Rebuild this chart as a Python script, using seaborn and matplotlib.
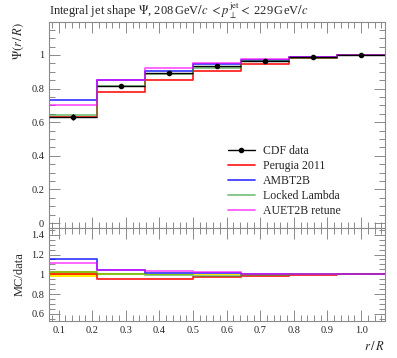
import matplotlib
matplotlib.use("Agg")
import matplotlib.pyplot as plt
from matplotlib.lines import Line2D
from matplotlib.ticker import MultipleLocator, FuncFormatter
import seaborn as sns

# r/R bins (R = 0.7, r = 0.05 ... 0.75 in steps of 0.1)
bin_edges = [0.0714, 0.2143, 0.3571, 0.5, 0.6429, 0.7857, 0.9286, 1.0714]
data_x = [0.1429, 0.2857, 0.4286, 0.5714, 0.7143, 0.8571, 1.0]
data_y = [0.630, 0.815, 0.891, 0.937, 0.967, 0.985, 1.0]
data_err = [0.019, 0.009, 0.007, 0.005, 0.003, 0.002, 0.0]

perugia = [0.633, 0.778, 0.849, 0.907, 0.948, 0.981, 1.0]
ambt2b = [0.730, 0.848, 0.907, 0.945, 0.972, 0.986, 1.0]
locked = [0.645, 0.818, 0.889, 0.924, 0.962, 0.984, 1.0]
auet2b = [0.700, 0.853, 0.923, 0.955, 0.974, 0.986, 1.0]

mc_labels = ["Perugia 2011", "AMBT2B", "Locked Lambda", "AUET2B retune"]
mc_values = [perugia, ambt2b, locked, auet2b]
mc_colors = ["#ff0000", "#0000ff", "#2a9a2a", "#ff00ff"]
mc_alpha = [0.85, 0.75, 0.6, 0.65]

sns.set_style("ticks")
plt.rcParams["font.family"] = ["Liberation Serif", "DejaVu Serif"]
plt.rcParams["mathtext.fontset"] = "stix"

frame = "#8a8a8a"


def step_xy(vals):
    # repeat last value so the final bin gets drawn with steps-post
    return bin_edges, list(vals) + [vals[-1]]


def style_axis(ax):
    for s in ax.spines.values():
        s.set_color(frame)
        s.set_linewidth(0.8)
    ax.tick_params(which="both", direction="in", top=True, right=True,
                   color=frame, labelsize=7.5, width=0.7)
    ax.tick_params(which="major", length=8)
    ax.tick_params(which="minor", length=4)
    ax.xaxis.set_major_locator(MultipleLocator(0.1))
    ax.xaxis.set_minor_locator(MultipleLocator(0.02))
    ax.yaxis.set_major_formatter(FuncFormatter(lambda v, p: f"{v:g}"))
    ax.set_xlim(bin_edges[0], bin_edges[-1])


fig = plt.figure(figsize=(3.97, 3.58), dpi=100)
ax = fig.add_axes([0.1234, 0.363, 0.8466, 0.5755])
rax = fig.add_axes([0.1234, 0.1034, 0.8466, 0.2596], sharex=ax)

# main panel
half_w = [(bin_edges[i + 1] - bin_edges[i]) / 2 for i in range(len(data_x))]
ax.errorbar(data_x, data_y, xerr=half_w, yerr=data_err, fmt="o", ms=3,
            color="black", lw=1.0, capsize=0, zorder=5)
for vals, lab, col, a in zip(mc_values, mc_labels, mc_colors, mc_alpha):
    x, y = step_xy(vals)
    sns.lineplot(x=x, y=y, ax=ax, drawstyle="steps-post", sort=False,
                 estimator=None, color=col, alpha=a, lw=1.3, label=lab)

ax.set_ylim(-0.03, 1.196)
ax.yaxis.set_major_locator(MultipleLocator(0.2))
ax.yaxis.set_minor_locator(MultipleLocator(0.05))
style_axis(ax)
ax.tick_params(labelbottom=False)
ax.set_xlabel("")
ax.set_ylabel(r"$\Psi(r\,/\,R)$", loc="top", fontsize=9)
ax.set_title(r"Integral jet shape $\Psi$, 208$\,$GeV$/c$ $< p_\perp^\mathrm{jet} <$ 229$\,$GeV$/c$",
             loc="left", fontsize=9, pad=5)

handles, labels = ax.get_legend_handles_labels()
data_handle = Line2D([], [], color="black", marker="o", ms=3, lw=1.0)
ax.legend([data_handle] + handles, ["CDF data"] + labels,
          loc="upper left", bbox_to_anchor=(0.562, 0.608), bbox_transform=fig.transFigure,
          frameon=False, fontsize=8.5, handlelength=2.3, handletextpad=0.7,
          labelspacing=0.25, borderaxespad=0)

# ratio panel
band_lo = [1 - e / d for d, e in zip(data_y, data_err)]
band_hi = [1 + e / d for d, e in zip(data_y, data_err)]
rax.fill_between(bin_edges, band_lo + [band_lo[-1]], band_hi + [band_hi[-1]],
                 step="post", color="#ffee00", lw=0)
for vals, col, a in zip(mc_values, mc_colors, mc_alpha):
    ratio = [v / d for v, d in zip(vals, data_y)]
    x, y = step_xy(ratio)
    sns.lineplot(x=x, y=y, ax=rax, drawstyle="steps-post", sort=False,
                 estimator=None, color=col, alpha=a, lw=1.3)

rax.set_ylim(0.528, 1.468)
rax.yaxis.set_major_locator(MultipleLocator(0.2))
rax.yaxis.set_minor_locator(MultipleLocator(0.05))
style_axis(rax)
rax.set_ylabel("MC/data", fontsize=9)
rax.set_xlabel(r"$r\,/\,R$", loc="right", fontsize=9)
rax.xaxis.set_major_formatter(FuncFormatter(lambda v, p: f"{v:.1f}"))

fig.savefig("out.png", dpi=100)
